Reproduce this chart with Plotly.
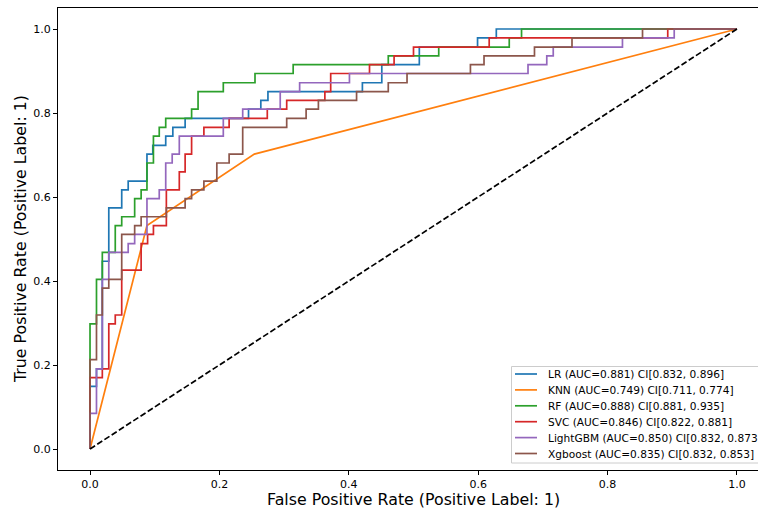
import plotly.graph_objects as go

W, H = 758, 509
ML, MR, MT, MB = 58, 0, 8, 39

# ---------------- data ----------------
names = ["LR", "KNN", "RF", "SVC", "LightGBM", "Xgboost"]
colors = ["#1f77b4", "#ff7f0e", "#2ca02c", "#d62728", "#9467bd", "#8c564b"]
auc = [0.881, 0.749, 0.888, 0.846, 0.850, 0.835]
ci_low = [0.832, 0.711, 0.881, 0.822, 0.832, 0.832]
ci_high = [0.896, 0.774, 0.935, 0.881, 0.873, 0.853]

lr_fpr = [0, 0, 0.010, 0.019, 0.029, 0.049, 0.059, 0.088, 0.097, 0.117, 0.128, 0.147,
          0.245, 0.264, 0.275, 0.421, 0.451, 0.509, 0.599, 0.628, 1.0]
lr_tpr = [0, 0.149, 0.191, 0.447, 0.574, 0.617, 0.638, 0.702, 0.723, 0.745, 0.766, 0.787,
          0.809, 0.830, 0.851, 0.872, 0.915, 0.957, 0.979, 1.0, 1.0]

knn_fpr = [0, 0.088, 0.254, 1.0]
knn_tpr = [0, 0.532, 0.702, 1.0]

rf_fpr = [0, 0, 0.010, 0.019, 0.039, 0.049, 0.069, 0.079, 0.088, 0.098, 0.107, 0.117,
          0.157, 0.167, 0.206, 0.255, 0.314, 0.461, 0.539, 0.648, 0.667, 1.0]
rf_tpr = [0, 0.298, 0.404, 0.468, 0.532, 0.553, 0.596, 0.617, 0.681, 0.745, 0.766, 0.787,
          0.809, 0.851, 0.872, 0.894, 0.915, 0.936, 0.957, 0.979, 1.0, 1.0]

svc_fpr = [0, 0, 0.019, 0.029, 0.039, 0.049, 0.079, 0.089, 0.098, 0.118, 0.138, 0.147,
           0.157, 0.176, 0.215, 0.274, 0.304, 0.363, 0.372, 0.432, 0.470, 0.500, 0.617,
           0.893, 1.0]
svc_tpr = [0, 0.170, 0.191, 0.298, 0.319, 0.426, 0.489, 0.511, 0.532, 0.617, 0.660, 0.702,
           0.745, 0.766, 0.787, 0.809, 0.830, 0.851, 0.894, 0.915, 0.936, 0.957, 0.979,
           1.0, 1.0]

lgbm_fpr = [0, 0, 0.010, 0.019, 0.029, 0.059, 0.069, 0.088, 0.107, 0.117, 0.127, 0.138,
            0.206, 0.236, 0.294, 0.324, 0.401, 0.677, 0.706, 0.716, 0.823, 0.903, 1.0]
lgbm_tpr = [0, 0.085, 0.191, 0.404, 0.468, 0.489, 0.511, 0.596, 0.617, 0.681, 0.702, 0.745,
            0.787, 0.809, 0.851, 0.872, 0.894, 0.915, 0.936, 0.957, 0.979, 1.0, 1.0]

xgb_fpr = [0, 0, 0.010, 0.019, 0.029, 0.049, 0.069, 0.079, 0.118, 0.147, 0.157, 0.176,
           0.196, 0.215, 0.236, 0.304, 0.334, 0.353, 0.412, 0.461, 0.490, 0.588, 0.609,
           0.687, 0.745, 0.854, 1.0]
xgb_tpr = [0, 0.213, 0.319, 0.383, 0.404, 0.511, 0.532, 0.553, 0.574, 0.596, 0.617, 0.638,
           0.681, 0.702, 0.766, 0.787, 0.809, 0.830, 0.851, 0.872, 0.894, 0.915, 0.936,
           0.957, 0.979, 1.0, 1.0]

diag_x = [0, 1]
diag_y = [0, 1]

tick_vals = [0.0, 0.2, 0.4, 0.6, 0.8, 1.0]
tick_text = ["0.0", "0.2", "0.4", "0.6", "0.8", "1.0"]

x_title = "False Positive Rate (Positive Label: 1)"
y_title = "True Positive Rate (Positive Label: 1)"

curves = [(lr_fpr, lr_tpr, "hv"), (knn_fpr, knn_tpr, "linear"), (rf_fpr, rf_tpr, "hv"),
          (svc_fpr, svc_tpr, "hv"), (lgbm_fpr, lgbm_tpr, "hv"), (xgb_fpr, xgb_tpr, "hv")]
labels = [f"{n} (AUC={a:.3f}) CI[{lo:.3f}, {hi:.3f}]"
          for n, a, lo, hi in zip(names, auc, ci_low, ci_high)]

FONT = "DejaVu Sans"
LW = 1.7

fig = go.Figure()
for (fx, ty, shape), name, col in zip(curves, labels, colors):
    fig.add_trace(go.Scatter(x=fx, y=ty, mode="lines", name=name,
                             line=dict(color=col, width=LW, shape=shape),
                             showlegend=False, hoverinfo="skip"))
fig.add_trace(go.Scatter(x=diag_x, y=diag_y, mode="lines", showlegend=False,
                         line=dict(color="black", width=LW, dash="6px,2.6px"),
                         hoverinfo="skip"))

pw = W - ML - MR
ph = H - MT - MB


def px2x(p):
    return (p - ML) / pw


def px2y(p):
    return (H - MB - p) / ph


axis_common = dict(showgrid=False, zeroline=False, showline=True, linecolor="black",
                   linewidth=1, ticks="outside", ticklen=4, tickwidth=1, tickcolor="black",
                   tickvals=tick_vals, ticktext=tick_text,
                   tickfont=dict(family=FONT, size=11, color="black"))
fig.update_xaxes(range=[-0.0495, 1.0325], mirror=True, **axis_common)
fig.update_yaxes(range=[-0.05, 1.05], mirror=False, **axis_common)

annotations = [
    dict(text=x_title, x=px2x(413), y=px2y(499), xref="paper", yref="paper",
         xanchor="center", yanchor="middle", showarrow=False,
         font=dict(family=FONT, size=15.8, color="black")),
    dict(text=y_title, x=px2x(20), y=px2y(239), xref="paper", yref="paper",
         xanchor="center", yanchor="middle", showarrow=False, textangle=-90,
         font=dict(family=FONT, size=15.8, color="black")),
]

# legend (drawn manually, partially clipped at the right edge like the original)
shapes = [dict(type="rect", xref="paper", yref="paper",
               x0=px2x(511.5), x1=px2x(790), y0=px2y(463), y1=px2y(366.5),
               line=dict(color="#cccccc", width=1), fillcolor="rgba(255,255,255,0.8)",
               layer="above")]
row_y = [374, 389.9, 405.8, 421.7, 437.6, 453.5]
for yy, lab, col in zip(row_y, labels, colors):
    shapes.append(dict(type="line", xref="paper", yref="paper",
                       x0=px2x(515), x1=px2x(537), y0=px2y(yy), y1=px2y(yy),
                       line=dict(color=col, width=LW), layer="above"))
    annotations.append(dict(text=lab, x=px2x(545.5), y=px2y(yy), xref="paper", yref="paper",
                            xanchor="left", yanchor="middle", showarrow=False,
                            font=dict(family=FONT, size=10.6, color="black")))

fig.update_layout(width=W, height=H, margin=dict(l=ML, r=MR, t=MT, b=MB),
                  paper_bgcolor="white", plot_bgcolor="white",
                  shapes=shapes, annotations=annotations,
                  font=dict(family=FONT, color="black"))

fig.write_html("out.html", config={"displayModeBar": False},
               post_script="document.body.style.margin='0';")
